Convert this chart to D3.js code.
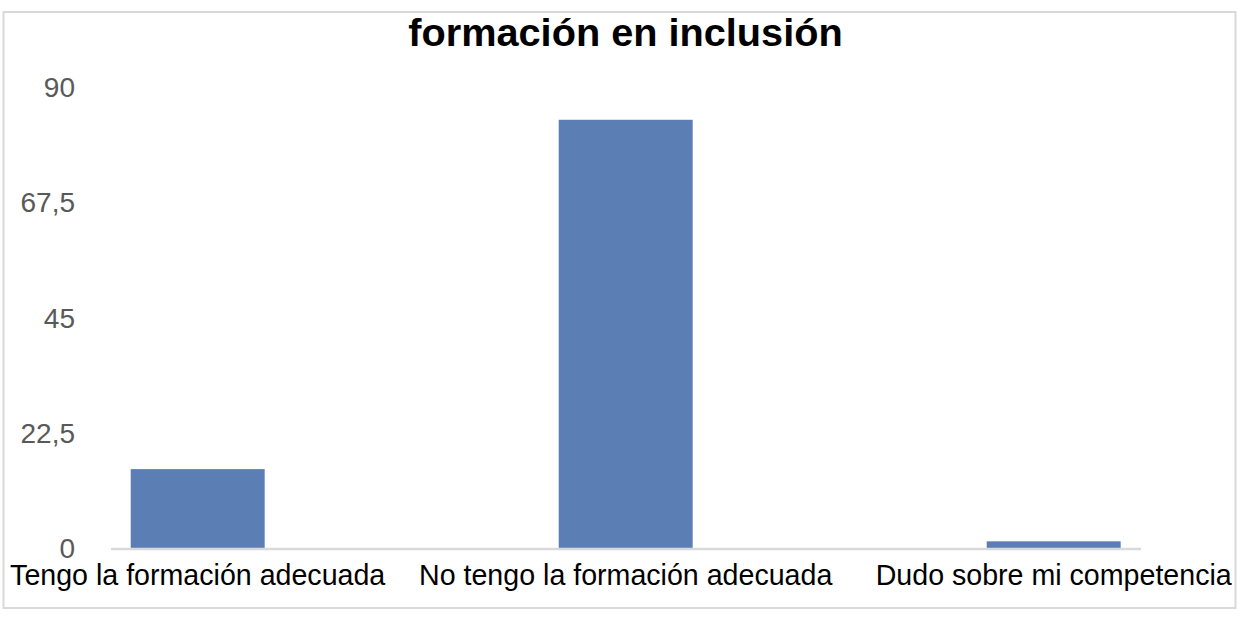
<!DOCTYPE html>
<html>
<head>
<meta charset="utf-8">
<script src="https://cdn.jsdelivr.net/npm/d3@7"></script>
<style>
  body { margin: 0; background: #fff; }
  svg { display: block; font-family: "Liberation Sans", Arial, sans-serif; }
</style>
</head>
<body>
<div id="chart"></div>
<script>
// data
var categories = ['Tengo la formación adecuada', 'No tengo la formación adecuada', 'Dudo sobre mi competencia'];
var values = [15.4, 83.6, 1.3];
var yTicks = [0, 22.5, 45, 67.5, 90];
var title = 'formación en inclusión';

// sizes
const W = 1252, H = 620;
const Y0 = 548, Y90 = 87;

var svg = d3.select('#chart').append('svg')
            .attr('width', W)
            .attr('height', H);

// frame
svg.append('rect')
   .attr('x', 3.5).attr('y', 12)
   .attr('width', 1232).attr('height', 596)
   .attr('fill', 'none')
   .attr('stroke', '#d9d9d9')
   .attr('stroke-width', 2);

var x = d3.scaleBand()
          .domain(categories)
          .range([-16.3, 1267.7])
          .paddingInner(0.687)
          .paddingOuter(0.3435);

var y = d3.scaleLinear().domain([0, 90]).range([Y0, Y90]);

// title
svg.append('text')
   .attr('x', 625.5).attr('y', 46)
   .attr('text-anchor', 'middle')
   .attr('font-size', 39.7)
   .attr('font-weight', 'bold')
   .attr('fill', '#000')
   .text(title);

// y tick labels
svg.selectAll('text.ytick').data(yTicks)
   .enter()
   .append('text')
   .classed('ytick', true)
   .attr('x', 75)
   .attr('y', d => y(d) + 10)
   .attr('text-anchor', 'end')
   .attr('font-size', 28)
   .attr('fill', '#595959')
   .text(d => String(d).replace('.', ','));

// bars
svg.selectAll('rect.bar').data(values)
   .enter()
   .append('rect')
   .classed('bar', true)
   .attr('x', (d, i) => x(categories[i]))
   .attr('y', d => y(d))
   .attr('width', x.bandwidth())
   .attr('height', d => Y0 - y(d))
   .attr('fill', '#5b7fb5');

// baseline
svg.append('line')
   .attr('x1', 111).attr('x2', 1141)
   .attr('y1', Y0 + 1).attr('y2', Y0 + 1)
   .attr('stroke', '#d9d9d9')
   .attr('stroke-width', 2.5);

// category labels
svg.selectAll('text.xlabel').data(categories)
   .enter()
   .append('text')
   .classed('xlabel', true)
   .attr('x', d => x(d) + x.bandwidth() / 2)
   .attr('y', 585)
   .attr('text-anchor', 'middle')
   .attr('font-size', 28.6)
   .attr('fill', '#000')
   .text(d => d);
</script>
</body>
</html>
